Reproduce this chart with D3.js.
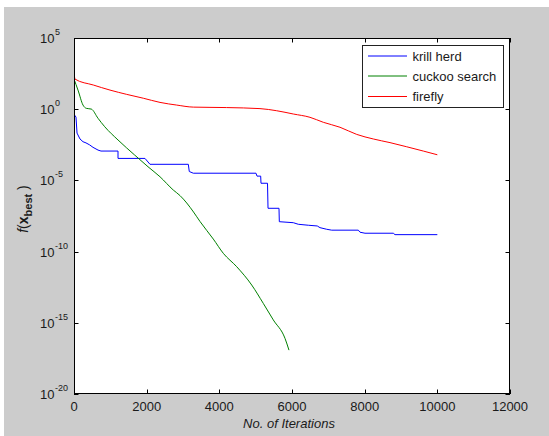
<!DOCTYPE html>
<html>
<head>
<meta charset="utf-8">
<script src="https://cdn.jsdelivr.net/npm/d3@7"></script>
<style>
  html, body { margin: 0; padding: 0; background: #ffffff; }
  svg { display: block; }
  text { font-family: Arial, "Liberation Sans", sans-serif; fill: #1a1a1a; }
</style>
</head>
<body>
<svg id="chart" width="549" height="436"></svg>
<script>
// ---- data ----
const xTicks = [0, 2000, 4000, 6000, 8000, 10000, 12000];
const yTickExponents = [5, 0, -5, -10, -15, -20];
const seriesNames = ["krill herd", "cuckoo search", "firefly"];
const seriesColors = ["#0000ff", "#008000", "#ff0000"];

const krillIter = [0, 14, 55, 83, 165, 248, 330, 432, 523, 661, 743, 1211, 1211, 1954, 2092, 3146, 3173, 3284, 5009, 5037, 5138, 5147, 5326, 5340, 5642, 5651, 6036, 6173, 6449, 6696, 6771, 6955, 7093, 7825, 7872, 8009, 8788, 8835, 10000];
const krillBest = [2.75, 0.39, 0.28, 0.021, 8.1e-3, 5.2e-3, 4.3e-3, 3.1e-3, 2.1e-3, 1.35e-3, 1.15e-3, 1.15e-3, 3.5e-4, 3.5e-4, 1.35e-4, 1.35e-4, 4.2e-5, 3.2e-5, 3.2e-5, 2.0e-5, 2.0e-5, 6.3e-6, 6.3e-6, 1.1e-7, 1.1e-7, 1.26e-8, 1.07e-8, 8.3e-9, 7.1e-9, 6.3e-9, 4.8e-9, 3.7e-9, 3.2e-9, 3.2e-9, 2.3e-9, 1.95e-9, 1.95e-9, 1.55e-9, 1.55e-9];

const cuckooIter = [0, 110, 248, 339, 476, 661, 845, 1211, 1671, 2037, 2367, 2733, 2920, 3102, 3290, 3468, 3834, 4109, 4478, 4891, 5210, 5485, 5807, 5917];
const cuckooBest = [130, 22, 1.95, 1.15, 1.02, 0.23, 0.059, 6.9e-3, 6.0e-4, 9.1e-5, 1.8e-5, 2.1e-6, 8.5e-7, 2.6e-7, 6.0e-8, 1.3e-8, 7.6e-10, 7.6e-11, 8.7e-12, 4.5e-13, 2.3e-14, 1.6e-15, 8.1e-17, 1.2e-17];

const fireflyIter = [0, 28, 531, 991, 1450, 1908, 2367, 2826, 3284, 4202, 5119, 5579, 6036, 6495, 6862, 7321, 7781, 8238, 8697, 9157, 9614, 10000];
const fireflyBest = [430, 130, 50, 22, 11, 5.9, 3.0, 1.95, 1.4, 1.3, 1.1, 0.78, 0.46, 0.27, 0.12, 0.054, 0.017, 0.0081, 0.0045, 0.0023, 0.00115, 0.00063];

// ---- layout ----
const svg = d3.select("#chart");
const L = 74, R = 510, T = 38, B = 394;

svg.append("rect").attr("x", 4).attr("y", 7).attr("width", 545).attr("height", 429).attr("fill", "#cccccc");
svg.append("rect").attr("x", L).attr("y", T).attr("width", R - L).attr("height", B - T).attr("fill", "#ffffff");

const x = d3.scaleLinear().domain([0, 12000]).range([L, R]);
const y = d3.scaleLog().domain([1e-20, 1e5]).range([B, T]);

svg.append("defs").append("clipPath").attr("id", "clip")
  .append("rect").attr("x", L).attr("y", T).attr("width", R - L).attr("height", B - T);

const series = [
  { it: krillIter, v: krillBest, curve: d3.curveLinear },
  { it: cuckooIter, v: cuckooBest, curve: d3.curveMonotoneX },
  { it: fireflyIter, v: fireflyBest, curve: d3.curveMonotoneX }
];
const g = svg.append("g").attr("clip-path", "url(#clip)");
series.forEach((s, i) => {
  const pts = s.it.map((t, k) => [t, s.v[k]]);
  const line = d3.line().x(d => x(d[0])).y(d => y(d[1])).curve(s.curve);
  g.append("path").datum(pts).attr("d", line)
    .attr("fill", "none").attr("stroke", seriesColors[i]).attr("stroke-width", 1);
});

// ---- axes (MATLAB style: ticks inside, mirrored) ----
const tl = 4.5;
const axisG = svg.append("g");
xTicks.forEach(t => {
  const px = Math.round(x(t)) + 0.5;
  axisG.append("line").attr("x1", px).attr("x2", px).attr("y1", B).attr("y2", B - tl).attr("stroke", "#000");
  axisG.append("line").attr("x1", px).attr("x2", px).attr("y1", T).attr("y2", T + tl).attr("stroke", "#000");
  axisG.append("text").attr("x", x(t)).attr("y", 410.5).attr("text-anchor", "middle")
    .attr("font-size", 13).text(t);
});
yTickExponents.forEach(e => {
  const py = Math.round(y(Math.pow(10, e))) + 0.5;
  axisG.append("line").attr("x1", L).attr("x2", L + tl).attr("y1", py).attr("y2", py).attr("stroke", "#000");
  axisG.append("line").attr("x1", R).attr("x2", R - tl).attr("y1", py).attr("y2", py).attr("stroke", "#000");
  axisG.append("text").attr("x", 54.5).attr("y", y(Math.pow(10, e)) + 5)
    .attr("text-anchor", "end").attr("font-size", 13).text("10");
  axisG.append("text").attr("x", 55).attr("y", y(Math.pow(10, e)) - 3)
    .attr("text-anchor", "start").attr("font-size", 9).text(String(e));
});
axisG.append("rect").attr("x", L + 0.5).attr("y", T + 0.5).attr("width", R - L - 1).attr("height", B - T - 1)
  .attr("fill", "none").attr("stroke", "#000").attr("stroke-width", 1);

// ---- axis labels ----
svg.append("text").attr("x", (L + R) / 2 - 3).attr("y", 428).attr("text-anchor", "middle")
  .attr("font-size", 13).attr("font-style", "italic").text("No. of Iterations");

const yl = svg.append("text").attr("transform", "translate(28,209) rotate(-90)")
  .attr("text-anchor", "middle").attr("font-size", 14);
yl.append("tspan").attr("font-style", "italic").text("f");
yl.append("tspan").text("(");
yl.append("tspan").attr("font-weight", "bold").text("x");
yl.append("tspan").attr("font-weight", "bold").attr("font-size", 11).attr("dy", 4).text("best");
yl.append("tspan").attr("dy", -4).text(" )");

// ---- legend ----
const lg = svg.append("g");
lg.append("rect").attr("x", 362.5).attr("y", 45.5).attr("width", 141).attr("height", 62)
  .attr("fill", "#ffffff").attr("stroke", "#222").attr("stroke-width", 1);
const rowsY = [56, 76, 96.5];
seriesNames.forEach((n, i) => {
  lg.append("line").attr("x1", 368).attr("x2", 407).attr("y1", rowsY[i]).attr("y2", rowsY[i])
    .attr("stroke", seriesColors[i]).attr("stroke-width", 1);
  lg.append("text").attr("x", 412.5).attr("y", rowsY[i] + 4.5).attr("font-size", 13).text(n);
});
</script>
</body>
</html>
